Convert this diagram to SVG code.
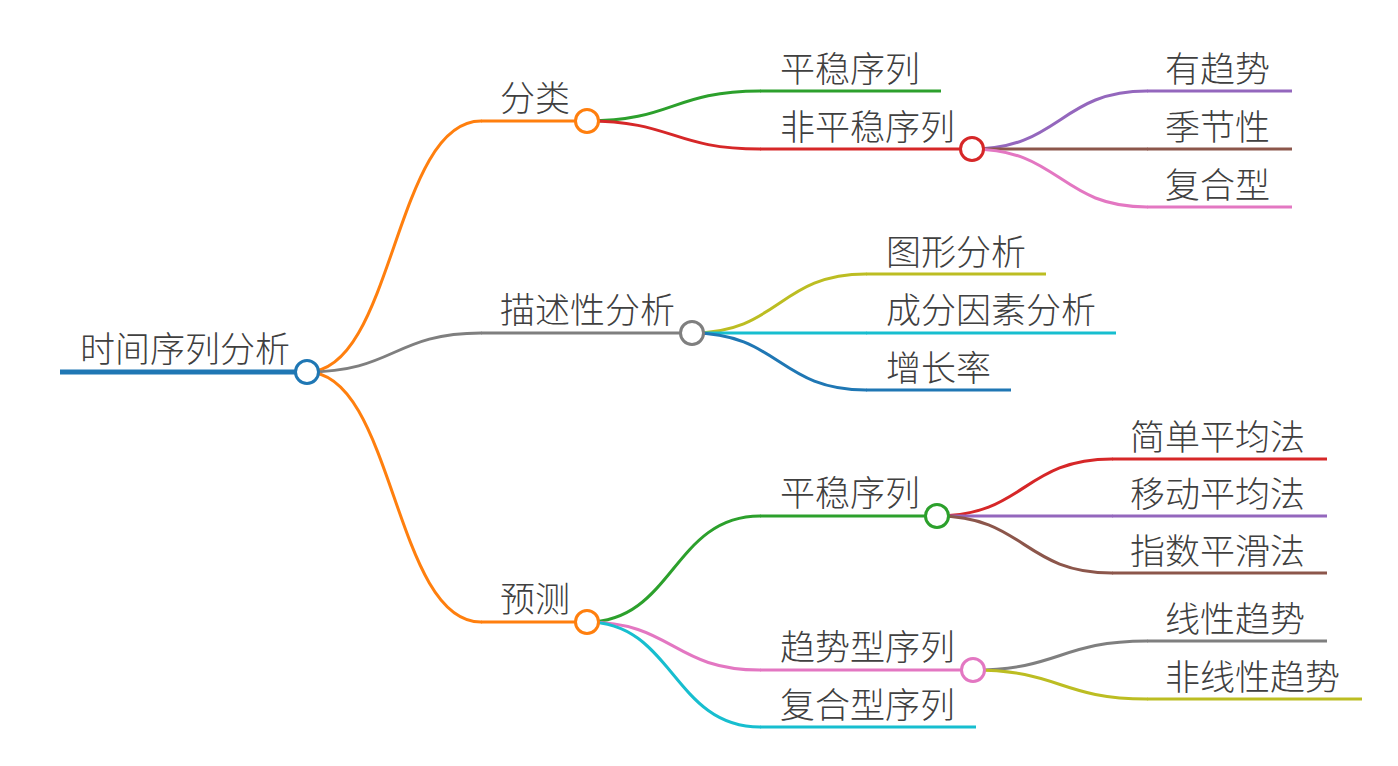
<svg xmlns="http://www.w3.org/2000/svg" width="1398" height="766" viewBox="0 0 1398 766">
<style>
text{font-family:"Noto Sans CJK SC","Noto Sans",sans-serif;font-size:35px;font-weight:300;fill:#404040}
.l{fill:none;stroke-width:3;stroke-linecap:round}
.u{stroke-width:3}
.c{fill:#fff;stroke-width:3}
</style>
<rect width="1398" height="766" fill="#fff"/>
<g id="connectors" class="l">
<path d="M307,372 C394,372 394,121 481,121" stroke="#ff7f0e"/>
<path d="M307,372 C394,372 394,333 481,333" stroke="#7f7f7f"/>
<path d="M307,372 C394,372 394,622 481,622" stroke="#ff7f0e"/>
<path d="M587,121 C673,121 673,91 760,91" stroke="#2ca02c"/>
<path d="M587,121 C673,121 673,149 760,149" stroke="#d62728"/>
<path d="M972,149 C1060,149 1060,91 1147,91" stroke="#9467bd"/>
<path d="M972,149 L1147,149" stroke="#8c564b"/>
<path d="M972,149 C1060,149 1060,207 1147,207" stroke="#e377c2"/>
<path d="M692,333 C779,333 779,274 866,274" stroke="#bcbd22"/>
<path d="M692,333 L866,333" stroke="#17becf"/>
<path d="M692,333 C779,333 779,390 866,390" stroke="#1f77b4"/>
<path d="M587,622 C673,622 673,516 760,516" stroke="#2ca02c"/>
<path d="M587,622 C673,622 673,670 760,670" stroke="#e377c2"/>
<path d="M587,622 C673,622 673,727 760,727" stroke="#17becf"/>
<path d="M937,516 C1024,516 1024,459 1112,459" stroke="#d62728"/>
<path d="M937,516 L1112,516" stroke="#9467bd"/>
<path d="M937,516 C1024,516 1024,573 1112,573" stroke="#8c564b"/>
<path d="M973,670 C1060,670 1060,641 1147,641" stroke="#7f7f7f"/>
<path d="M973,670 C1060,670 1060,699 1147,699" stroke="#bcbd22"/>
</g>
<g id="n-root"><line x1="60" y1="372" x2="296" y2="372" stroke="#1f77b4" stroke-width="5"/><circle class="c" cx="307" cy="372" r="11.5" stroke="#1f77b4"/><text x="80" y="362">时间序列分析</text></g>
<g id="n-fenlei"><line x1="481" y1="121" x2="576" y2="121" stroke="#ff7f0e" class="u"/><circle class="c" cx="587" cy="121" r="11.5" stroke="#ff7f0e"/><text x="500" y="111">分类</text></g>
<g id="n-pingwen1"><line x1="760" y1="91" x2="941" y2="91" stroke="#2ca02c" class="u"/><text x="780" y="82">平稳序列</text></g>
<g id="n-feipingwen"><line x1="760" y1="149" x2="961" y2="149" stroke="#d62728" class="u"/><circle class="c" cx="972" cy="149" r="11.5" stroke="#d62728"/><text x="780" y="140">非平稳序列</text></g>
<g id="n-youqushi"><line x1="1147" y1="91" x2="1292" y2="91" stroke="#9467bd" class="u"/><text x="1165" y="82">有趋势</text></g>
<g id="n-jijiexing"><line x1="1147" y1="149" x2="1292" y2="149" stroke="#8c564b" class="u"/><text x="1165" y="140">季节性</text></g>
<g id="n-fuhexing"><line x1="1147" y1="207" x2="1292" y2="207" stroke="#e377c2" class="u"/><text x="1165" y="198">复合型</text></g>
<g id="n-miaoshu"><line x1="481" y1="333" x2="681" y2="333" stroke="#7f7f7f" class="u"/><circle class="c" cx="692" cy="333" r="11.5" stroke="#7f7f7f"/><text x="500" y="323">描述性分析</text></g>
<g id="n-tuxing"><line x1="866" y1="274" x2="1046" y2="274" stroke="#bcbd22" class="u"/><text x="886" y="265">图形分析</text></g>
<g id="n-chengfen"><line x1="866" y1="333" x2="1116" y2="333" stroke="#17becf" class="u"/><text x="886" y="323">成分因素分析</text></g>
<g id="n-zengzhang"><line x1="866" y1="390" x2="1011" y2="390" stroke="#1f77b4" class="u"/><text x="886" y="381">增长率</text></g>
<g id="n-yuce"><line x1="481" y1="622" x2="576" y2="622" stroke="#ff7f0e" class="u"/><circle class="c" cx="587" cy="622" r="11.5" stroke="#ff7f0e"/><text x="500" y="612">预测</text></g>
<g id="n-pingwen2"><line x1="760" y1="516" x2="926" y2="516" stroke="#2ca02c" class="u"/><circle class="c" cx="937" cy="516" r="11.5" stroke="#2ca02c"/><text x="780" y="506">平稳序列</text></g>
<g id="n-jiandan"><line x1="1112" y1="459" x2="1327" y2="459" stroke="#d62728" class="u"/><text x="1130" y="450">简单平均法</text></g>
<g id="n-yidong"><line x1="1112" y1="516" x2="1327" y2="516" stroke="#9467bd" class="u"/><text x="1130" y="507">移动平均法</text></g>
<g id="n-zhishu"><line x1="1112" y1="573" x2="1327" y2="573" stroke="#8c564b" class="u"/><text x="1130" y="564">指数平滑法</text></g>
<g id="n-qushixing"><line x1="760" y1="670" x2="962" y2="670" stroke="#e377c2" class="u"/><circle class="c" cx="973" cy="670" r="11.5" stroke="#e377c2"/><text x="780" y="660">趋势型序列</text></g>
<g id="n-xianxing"><line x1="1147" y1="641" x2="1327" y2="641" stroke="#7f7f7f" class="u"/><text x="1165" y="632">线性趋势</text></g>
<g id="n-feixianxing"><line x1="1147" y1="699" x2="1362" y2="699" stroke="#bcbd22" class="u"/><text x="1165" y="690">非线性趋势</text></g>
<g id="n-fuhexulie"><line x1="760" y1="727" x2="976" y2="727" stroke="#17becf" class="u"/><text x="780" y="718">复合型序列</text></g>
</svg>
